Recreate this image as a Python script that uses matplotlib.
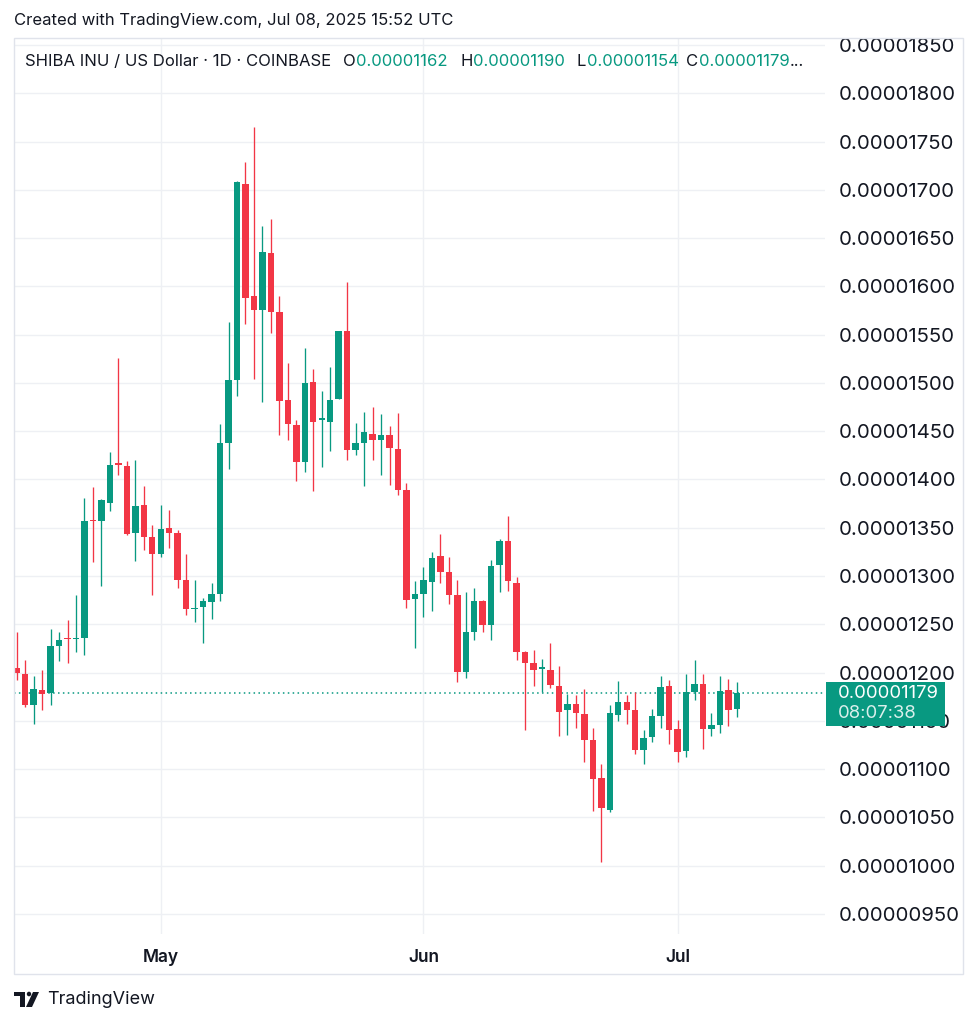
import numpy as np
import pandas as pd
import matplotlib
matplotlib.use("Agg")
import matplotlib.pyplot as plt
import matplotlib.dates as mdates
from matplotlib.ticker import MultipleLocator, FuncFormatter
from matplotlib.patches import Rectangle, Polygon, Circle

plt.rcParams['font.family'] = ['Inter', 'DejaVu Sans']

# Daily SHIB/USD candles, prices in units of 1e-8 USD
start_date = '2025-04-14'
opens = [1205, 1199, 1166, 1182, 1179, 1228, 1236, 1235, 1236, 1358,
         1357, 1376, 1417, 1414, 1345, 1374, 1340, 1323, 1350, 1345,
         1296, 1266, 1268, 1273, 1281, 1438, 1503, 1706, 1590, 1575,
         1635, 1573, 1482, 1456, 1418, 1501, 1462, 1460, 1483, 1554,
         1431, 1438, 1447, 1441, 1446, 1432, 1389, 1276, 1281, 1294,
         1321, 1304, 1280, 1201, 1242, 1274, 1249, 1311, 1336, 1293,
         1221, 1210, 1204, 1203, 1186, 1161, 1168, 1157, 1130, 1091,
         1058, 1156, 1170, 1161, 1120, 1133, 1155, 1186, 1142, 1119,
         1180, 1188, 1142, 1146, 1182, 1162]
highs = [1242, 1213, 1197, 1203, 1245, 1242, 1254, 1280, 1381, 1392,
         1380, 1428, 1526, 1419, 1420, 1393, 1353, 1374, 1368, 1348,
         1323, 1296, 1277, 1293, 1457, 1563, 1709, 1729, 1765, 1663,
         1670, 1590, 1521, 1462, 1536, 1514, 1492, 1517, 1554, 1605,
         1458, 1470, 1475, 1468, 1455, 1469, 1396, 1295, 1309, 1325,
         1344, 1320, 1296, 1283, 1288, 1275, 1317, 1338, 1362, 1299,
         1222, 1223, 1214, 1231, 1207, 1178, 1177, 1183, 1143, 1105,
         1166, 1191, 1177, 1180, 1141, 1162, 1197, 1192, 1151, 1199,
         1213, 1199, 1158, 1196, 1193, 1190]
lows = [1192, 1164, 1147, 1161, 1166, 1212, 1210, 1221, 1218, 1315,
        1290, 1367, 1405, 1343, 1316, 1327, 1280, 1320, 1329, 1288,
        1260, 1252, 1231, 1256, 1274, 1411, 1486, 1561, 1504, 1480,
        1552, 1446, 1441, 1398, 1408, 1388, 1413, 1429, 1483, 1420,
        1425, 1393, 1420, 1405, 1394, 1384, 1267, 1226, 1258, 1264,
        1293, 1271, 1190, 1194, 1234, 1242, 1234, 1283, 1285, 1213,
        1141, 1186, 1180, 1184, 1134, 1135, 1143, 1107, 1057, 1004,
        1056, 1150, 1147, 1116, 1105, 1128, 1143, 1126, 1107, 1113,
        1172, 1121, 1134, 1137, 1145, 1154]
closes = [1200, 1166, 1183, 1178, 1228, 1234, 1235, 1236, 1357, 1357,
          1379, 1415, 1415, 1344, 1373, 1340, 1323, 1349, 1345, 1296,
          1266, 1267, 1274, 1281, 1438, 1503, 1708, 1588, 1575, 1636,
          1573, 1481, 1457, 1418, 1500, 1460, 1463, 1482, 1554, 1431,
          1438, 1449, 1441, 1446, 1433, 1389, 1275, 1281, 1296, 1319,
          1304, 1280, 1201, 1242, 1274, 1249, 1310, 1336, 1295, 1221,
          1210, 1203, 1204, 1187, 1159, 1167, 1158, 1130, 1090, 1060,
          1158, 1170, 1161, 1120, 1132, 1155, 1185, 1141, 1118, 1180,
          1188, 1142, 1146, 1181, 1161, 1179]
unit = 1e-8
countdown = '08:07:38'

o = np.array(opens) * unit
h = np.array(highs) * unit
l = np.array(lows) * unit
c = np.array(closes) * unit
dates = pd.date_range(start_date, periods=len(opens))
x = mdates.date2num(dates)

UP = '#089981'
DOWN = '#F23645'
TXT = '#131722'
GRID = '#eef0f4'

W, H = 977, 1024
fig = plt.figure(figsize=(W / 100, H / 100), dpi=100)

def fx(px):
    return px / W

def fy(py):
    return 1 - py / H

# plot area in pixels: x 14..825, y 38..934
ax = fig.add_axes([fx(14), fy(934), fx(825) - fx(14), fy(38) - fy(934)])

up = c >= o
cols = np.where(up, UP, DOWN)
ax.vlines(x, l, h, colors=cols, linewidth=0.95, zorder=3)
body_low = np.minimum(o, c)
body_h = np.maximum(np.abs(c - o), 1.3 * unit)
ax.bar(x, body_h, bottom=body_low, width=0.76, color=cols, linewidth=0, zorder=4)

# last price dotted line
ax.axhline(c[-1], color=UP, linestyle=(0, (1, 2.2)), linewidth=1.1, zorder=2)

ax.set_xlim(x[0] - 0.32, x[0] + 95.4)
ax.set_ylim(929.3 * unit, 1857.2 * unit)

ax.yaxis.set_major_locator(MultipleLocator(50 * unit))
ax.yaxis.set_major_formatter(FuncFormatter(lambda v, p: f'{v:.8f}'))
ax.yaxis.tick_right()
ax.xaxis.set_major_locator(mdates.MonthLocator())
ax.xaxis.set_major_formatter(mdates.DateFormatter('%b'))

ax.tick_params(axis='y', length=0, pad=10, labelsize=14.7, labelcolor=TXT)
ax.tick_params(axis='x', length=0, pad=11, labelsize=12.5, labelcolor=TXT)
for t in ax.get_xticklabels():
    t.set_fontweight('semibold')
ax.grid(True, color=GRID, linewidth=1.0, zorder=0)
for s in ax.spines.values():
    s.set_visible(False)

# outer frame
fig.patches.append(Rectangle((fx(14), fy(974)), fx(963) - fx(14), fy(38) - fy(974),
                             transform=fig.transFigure, fill=False,
                             edgecolor='#e0e3eb', linewidth=1.0))

# last price tag on the price scale
fig.patches.append(Rectangle((fx(826), fy(726)), fx(945) - fx(826), fy(682) - fy(726),
                             transform=fig.transFigure, facecolor=UP,
                             edgecolor='none', zorder=10))
fig.text(fx(838), fy(694), f'{c[-1]:.8f}', color='white', fontsize=13.3,
         va='center', ha='left', zorder=11)
fig.text(fx(838), fy(714), countdown, color='white', alpha=0.85, fontsize=13.3,
         va='center', ha='left', zorder=11)

# header
fig.text(fx(14), fy(20), 'Created with TradingView.com, Jul 08, 2025 15:52 UTC',
         color=TXT, fontsize=12, va='center', ha='left')
fig.text(fx(25), fy(61), 'SHIBA INU / US Dollar · 1D · COINBASE',
         color=TXT, fontsize=12, va='center', ha='left')
renderer = fig.canvas.get_renderer()
ohlc_pos = [('O', o[-1], 343), ('H', h[-1], 460), ('L', l[-1], 577), ('C', c[-1], 686)]
for lab, val, px in ohlc_pos:
    t = fig.text(fx(px), fy(61), lab, color=TXT, fontsize=12, va='center', ha='left')
    x1 = t.get_window_extent(renderer).x1
    v = fig.text(x1 / W + 0.5 / W, fy(61), f'{val:.8f}', color=UP, fontsize=12,
                 va='center', ha='left')
    if lab == 'C':
        vx1 = v.get_window_extent(renderer).x1
        fig.text(vx1 / W + 0.5 / W, fy(61), '...', color=TXT, fontsize=12,
                 va='center', ha='left')

# TradingView logo (approximate) + wordmark
logo = [
    Polygon([(fx(14), fy(992)), (fx(25), fy(992)), (fx(25), fy(1007)),
             (fx(20), fy(1007)), (fx(20), fy(996)), (fx(14), fy(996))], closed=True),
    Circle((fx(29), fy(994)), 2.2 / W),
    Polygon([(fx(33), fy(992)), (fx(39), fy(992)), (fx(32), fy(1007)),
             (fx(26), fy(1007))], closed=True),
]
for p in logo:
    p.set_transform(fig.transFigure)
    p.set_facecolor(TXT)
    p.set_edgecolor('none')
    fig.patches.append(p)
fig.text(fx(47), fy(1000), 'TradingView', color=TXT, fontsize=13, va='center', ha='left')

fig.savefig('out.png', dpi=100, facecolor='white')
